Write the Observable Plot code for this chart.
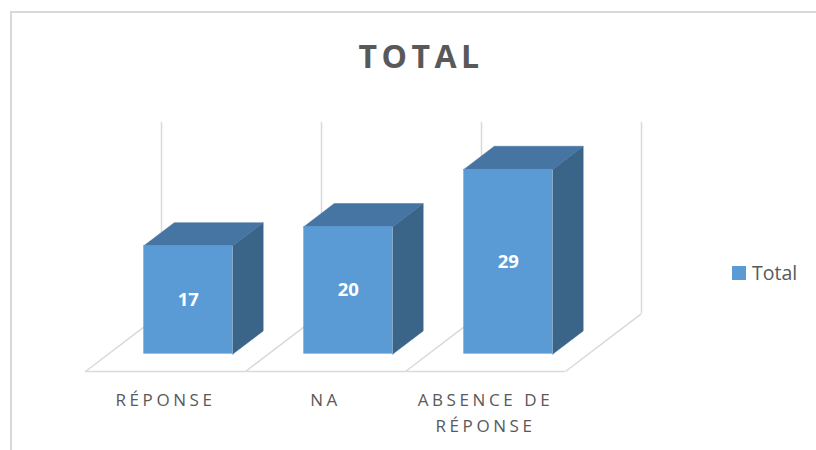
<!DOCTYPE html>
<html>
<head>
<meta charset="utf-8">
<script src="https://cdn.jsdelivr.net/npm/d3@7"></script>
<script src="https://cdn.jsdelivr.net/npm/@observablehq/plot@0.6"></script>
<style>
  html, body { margin: 0; padding: 0; background: #fff; }
  #wrap { position: relative; width: 816px; height: 450px; overflow: hidden; font-family: "Open Sans", sans-serif; }
  #border { position: absolute; left: 10px; top: 11px; width: 900px; height: 600px; border: 2px solid #D9D9D9; box-sizing: border-box; }
  #title { position: absolute; left: 0; top: 36px; width: 842px; text-align: center; font-size: 32px; font-weight: bold; color: #595959; letter-spacing: 4.5px; line-height: 40px; }
  #legend { position: absolute; left: 732px; top: 259px; display: flex; align-items: center; font-size: 19.5px; color: #595959; }
  #legend .sw { width: 14px; height: 14px; background: #5B9BD5; margin-right: 6px; }
  #chart { position: absolute; left: 0; top: 0; }
</style>
</head>
<body>
<div id="wrap">
  <div id="border"></div>
  <div id="chart"></div>
  <div id="title">TOTAL</div>
  <div id="legend"><div class="sw"></div><span id="legendText"></span></div>
</div>
<script>
// ---- data ----
const categories = ["RÉPONSE", "NA", "ABSENCE DE\nRÉPONSE"];
const values = [17, 20, 29];
const seriesName = "Total";
const titleText = "TOTAL";
const yMax = 30;

// ---- 3D projection settings (in data units) ----
const depthX = 0.475;   // horizontal shift of the back plane, in category units
const depthY = 9.1;     // vertical shift of the back plane, in value units
const barW = 0.556;     // bar width as fraction of a category
const d0 = 0.3, d1 = 0.7; // bar depth range (0 = front, 1 = back)

const colFront = "#5B9BD5", colTop = "#4675A3", colSide = "#3A6488", gridCol = "#D9D9D9";

const P = (cx, v, d) => ({x: cx + depthX * d, y: v + depthY * d});

const bars = categories.map((c, i) => {
  const xl = i + 0.5 - barW / 2, xr = i + 0.5 + barW / 2, v = values[i];
  return {c, i, v, xl, xr};
});

const fronts = bars.map(b => ({...b, x1: P(b.xl, 0, d0).x, x2: P(b.xr, 0, d0).x, y1: P(0, 0, d0).y, y2: P(0, b.v, d0).y}));
const tops = bars.flatMap(b => [P(b.xl, b.v, d0), P(b.xr, b.v, d0), P(b.xr, b.v, d1), P(b.xl, b.v, d1), P(b.xl, b.v, d0)].map(p => ({...p, id: b.i})));
const sides = bars.flatMap(b => [P(b.xr, 0, d0), P(b.xr, 0, d1), P(b.xr, b.v, d1), P(b.xr, b.v, d0), P(b.xr, 0, d0)].map(p => ({...p, id: b.i})));
const gridX = d3.range(categories.length + 1).map(i => i + depthX);
const floorDiag = d3.range(categories.length + 1).map(i => ({x1: i, y1: 0, x2: i + depthX, y2: depthY}));
const labels = bars.map(b => ({...P(b.xl + barW / 2, b.v / 2, d0), t: String(b.v)}));
const catLabels = categories.map((c, i) => ({x: i + 0.5, y: 0, t: c}));

document.getElementById("title").textContent = titleText;
document.getElementById("legendText").textContent = seriesName;

const chart = Plot.plot({
  width: 816,
  height: 450,
  marginLeft: 85,
  marginRight: 175,
  marginTop: 122,
  marginBottom: 79,
  style: {fontFamily: "'Open Sans', sans-serif", background: "transparent"},
  x: {type: "linear", domain: [0, categories.length + depthX], axis: null},
  y: {type: "linear", domain: [0, yMax + depthY], axis: null},
  marks: [
    Plot.ruleX(gridX, {x: d => d, y1: depthY, y2: yMax + depthY, stroke: gridCol, strokeWidth: 1.5}),
    Plot.ruleY([0], {x1: 0, x2: categories.length, stroke: gridCol, strokeWidth: 1.5}),
    Plot.link(floorDiag, {x1: "x1", y1: "y1", x2: "x2", y2: "y2", stroke: gridCol, strokeWidth: 1.5}),
    Plot.line(sides, {x: "x", y: "y", z: "id", fill: colSide, stroke: colSide, strokeWidth: 0.5}),
    Plot.line(tops, {x: "x", y: "y", z: "id", fill: colTop, stroke: colTop, strokeWidth: 0.5}),
    Plot.rect(fronts, {x1: "x1", x2: "x2", y1: "y1", y2: "y2", fill: colFront}),
    Plot.text(labels, {x: "x", y: "y", text: "t", fill: "white", fontSize: 18.5, fontWeight: "bold", lineAnchor: "middle"}),
    Plot.text(catLabels, {x: "x", y: "y", text: "t", fill: "#595959", fontSize: 17, lineAnchor: "top", dy: 15, lineHeight: 1.58})
  ]
});
const catSet = new Set(categories.flatMap(c => c.split("\n")).concat(categories));
chart.querySelectorAll("text, tspan").forEach(t => {
  if (catSet.has(t.textContent)) t.setAttribute("letter-spacing", "3.6");
});
document.getElementById("chart").appendChild(chart);
</script>
</body>
</html>
